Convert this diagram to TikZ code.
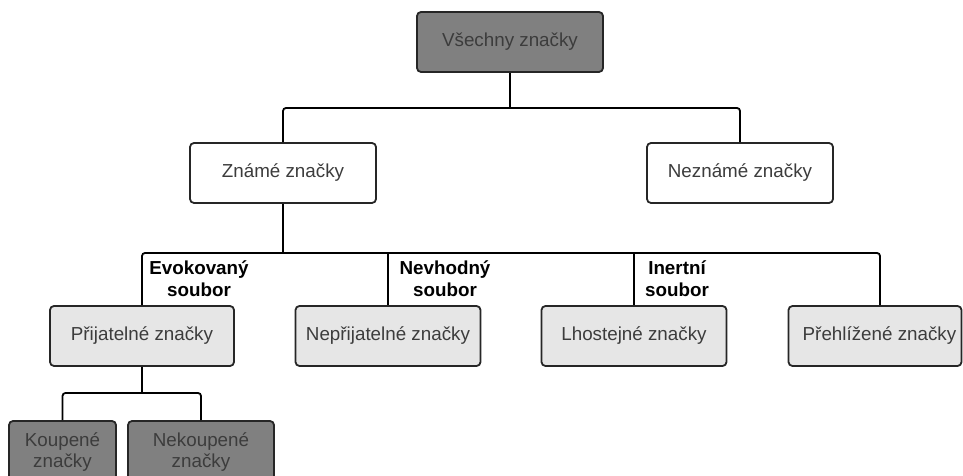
\documentclass[tikz,border=0pt]{standalone}
\usepackage{fontspec}
\setmainfont{Liberation Sans}
\definecolor{darkfill}{HTML}{808080}
\definecolor{lightfill}{HTML}{E6E6E6}
\definecolor{boxline}{HTML}{262626}
\definecolor{boxtext}{HTML}{3C3C3C}
\begin{document}
\begin{tikzpicture}[x=1bp,y=-1bp,
  box/.style={draw=boxline,line width=1.8bp,rounded corners=4bp,
    minimum width=186bp,minimum height=60bp,inner sep=0pt,
    text=boxtext,font=\fontsize{18.8bp}{21bp}\selectfont,align=center},
  darkbox/.style={box,fill=darkfill},
  lightbox/.style={box,fill=lightfill},
  whitebox/.style={box,fill=white},
  conn/.style={draw=black,line width=1.8bp,rounded corners=3bp},
  setlabel/.style={font=\bfseries\fontsize{18.8bp}{22bp}\selectfont,align=center,text=black,inner sep=0pt}]
\useasboundingbox (0,0) rectangle (963,476);
\begin{scope}
\clip (0,0) rectangle (963,476);
% nodes
\node[darkbox] (all) at (510,42) {Všechny značky};
\node[whitebox] (known) at (283,173) {Známé značky};
\node[whitebox] (unknown) at (740,173) {Neznámé značky};
\node[lightbox,minimum width=184bp] (accept) at (142,336) {Přijatelné značky};
\node[lightbox,minimum width=185bp] (nonaccept) at (388,336) {Nepřijatelné značky};
\node[lightbox,minimum width=185bp] (indiff) at (634,336) {Lhostejné značky};
\node[lightbox,minimum width=173bp] (over) at (875,336) {\hspace*{9bp}Přehlížené značky};
\node[darkbox,minimum width=107bp,minimum height=62bp] (bought) at (62.5,452) {Koupené\\značky};
\node[darkbox,minimum width=146bp,minimum height=62bp] (notbought) at (201,452) {Nekoupené\\značky};
% junctions
\coordinate (j1) at (510,108);
\coordinate (j2) at (283,253);
\coordinate (j3) at (142,393);
% connectors
\draw[conn] (all.south) -- (j1);
\draw[conn] (known.north) |- (j1) -| (unknown.north);
\draw[conn] (known.south) -- (j2);
\draw[conn] (accept.north) |- (j2) -| ([xshift=5bp]over.north);
\draw[conn] (nonaccept.north) -- (nonaccept.north |- j2);
\draw[conn] (indiff.north) -- (indiff.north |- j2);
\draw[conn] (accept.south) -- (j3);
\draw[conn] (bought.north) |- (j3) -| (notbought.north);
% labels
\node[setlabel] (lab1) at (199,279) {Evokovaný\\soubor};
\node[setlabel] (lab2) at (445,279) {Nevhodný\\soubor};
\node[setlabel] (lab3) at (677,279) {Inertní\\soubor};
\end{scope}
\end{tikzpicture}
\end{document}
